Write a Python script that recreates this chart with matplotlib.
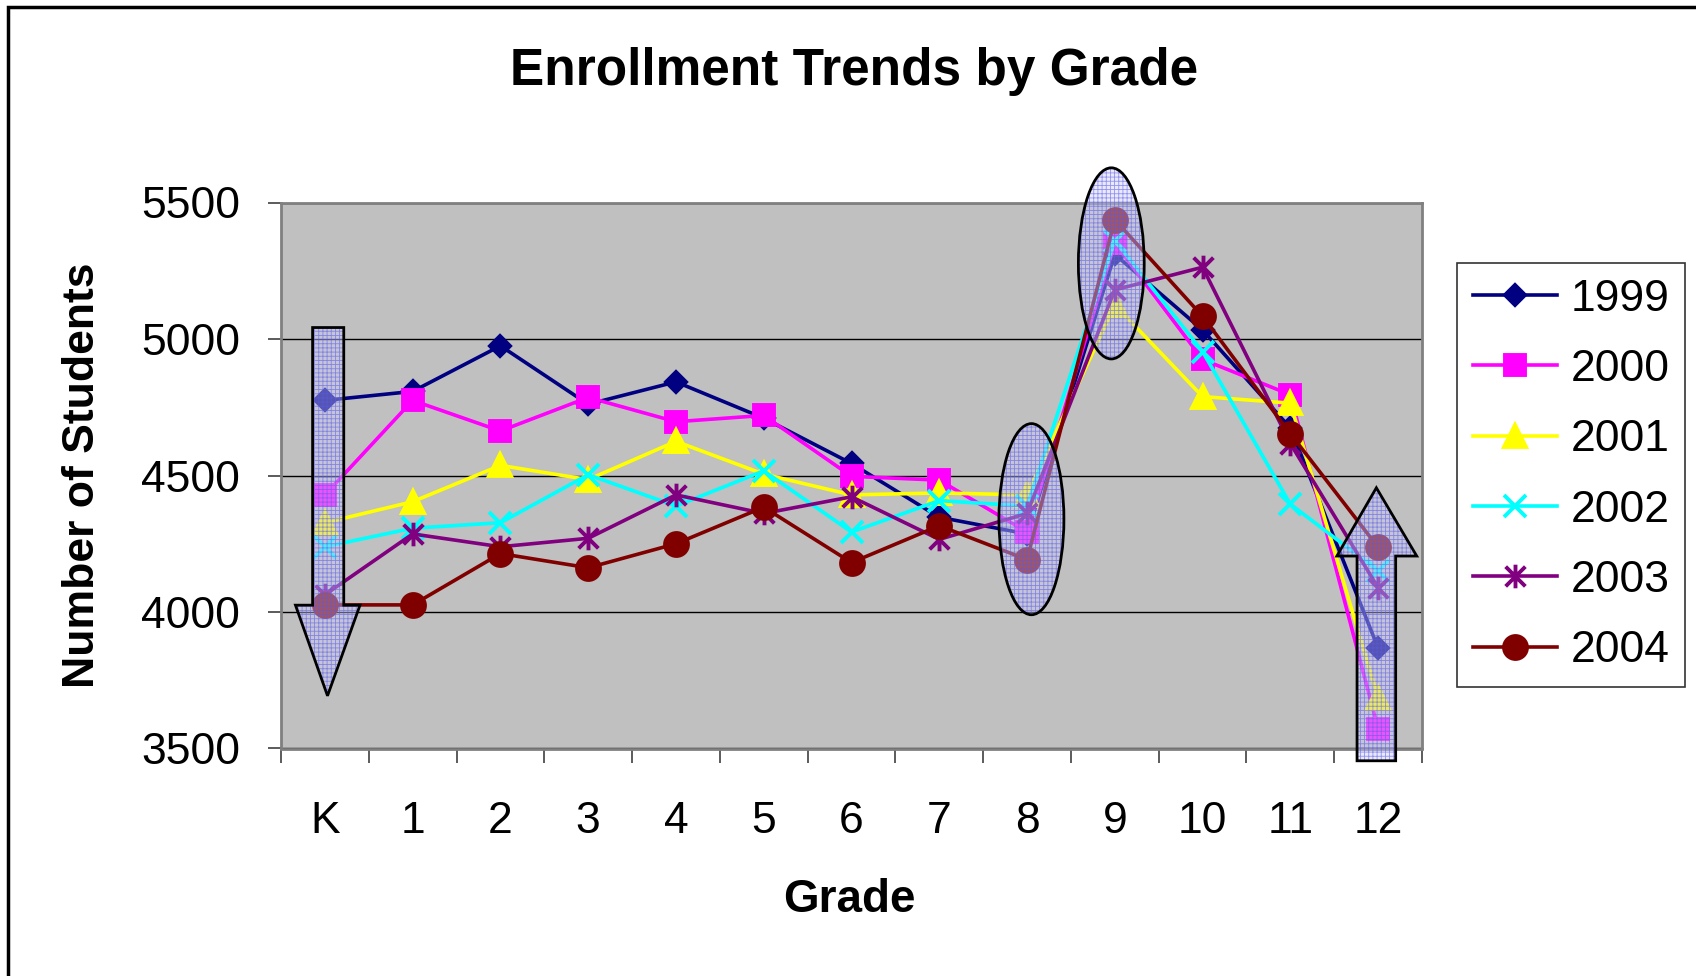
import matplotlib
matplotlib.use("Agg")
import matplotlib.pyplot as plt
from matplotlib.path import Path
from matplotlib.patches import Polygon, Ellipse, Rectangle

plt.rcParams['font.family'] = ['Liberation Sans', 'DejaVu Sans']
plt.rcParams['hatch.linewidth'] = 0.6

grades = ['K', '1', '2', '3', '4', '5', '6', '7', '8', '9', '10', '11', '12']
years = ['1999', '2000', '2001', '2002', '2003', '2004']

y1999 = [4775, 4808, 4975, 4761, 4843, 4710, 4544, 4347, 4286, 5310, 5033, 4674, 3868]
y2000 = [4429, 4775, 4663, 4786, 4697, 4720, 4497, 4483, 4293, 5351, 4925, 4796, 3572]
y2001 = [4327, 4404, 4537, 4485, 4625, 4505, 4429, 4436, 4429, 5125, 4789, 4765, 3684]
y2002 = [4239, 4307, 4327, 4503, 4388, 4517, 4293, 4408, 4388, 5360, 4954, 4395, 4151]
y2003 = [4063, 4286, 4239, 4270, 4429, 4361, 4422, 4266, 4361, 5180, 5263, 4617, 4089]
y2004 = [4026, 4026, 4214, 4162, 4250, 4384, 4181, 4316, 4192, 5437, 5083, 4653, 4237]

colors = ['#000080', '#FF00FF', '#FFFF00', '#00FFFF', '#800080', '#800000']

# Excel-style asterisk: an "x" with a vertical bar
star = Path([(-1, -1), (1, 1), (-1, 1), (1, -1), (0, -1.2), (0, 1.2)],
            [Path.MOVETO, Path.LINETO, Path.MOVETO, Path.LINETO, Path.MOVETO, Path.LINETO])
markers = ['D', 's', '^', 'x', star, 'o']
msizes = [10.5, 15, 16, 16, 17, 16.5]

fig = plt.figure(figsize=(16.96, 9.76), dpi=100)
ax = fig.add_axes([281 / 1696, 1 - 748.5 / 976, 1141 / 1696, 546 / 976])
ax.set_facecolor('#C0C0C0')

x = list(range(len(grades)))
series = [y1999, y2000, y2001, y2002, y2003, y2004]
for vals, c, m, ms, lab in zip(series, colors, markers, msizes, years):
    ax.plot(x, vals, color=c, lw=2.6, marker=m, ms=ms, mfc=c, mec=c, mew=2.8,
            label=lab, zorder=2)

ax.set_xlim(-0.5, 12.5)
ax.set_ylim(3500, 5500)
ax.set_yticks([3500, 4000, 4500, 5000, 5500])
ax.yaxis.grid(True, color='black', lw=1)
ax.set_axisbelow(True)
ax.set_xticks(x)
ax.set_xticklabels(grades)
ax.set_xticks([i - 0.5 for i in range(14)], minor=True)
ax.tick_params(axis='x', which='major', length=0, pad=38, labelsize=32)
ax.tick_params(axis='x', which='minor', length=10, width=1.2, color='#404040')
ax.tick_params(axis='y', length=9.5, width=1.2, color='#404040', pad=20, labelsize=32)
for s in ax.spines.values():
    s.set_color('#808080')
    s.set_linewidth(2)


def shaded(patch_fn):
    fill = patch_fn()
    fill.set_facecolor((0.80, 0.80, 0.97, 0.42))
    fill.set_edgecolor((0.35, 0.35, 0.92, 0.6))
    fill.set_linewidth(0)
    fill.set_hatch('++++')
    fill.set_clip_on(False)
    fill.set_zorder(3)
    ax.add_patch(fill)
    edge = patch_fn()
    edge.set_fill(False)
    edge.set_edgecolor('black')
    edge.set_linewidth(2)
    edge.set_clip_on(False)
    edge.set_zorder(4)
    ax.add_patch(edge)


down_arrow = [(-0.14, 5042), (0.215, 5042), (0.215, 4025), (0.40, 4025),
              (0.03, 3693), (-0.335, 4025), (-0.14, 4025)]
up_arrow = [(11.76, 3455), (12.20, 3455), (12.20, 4205), (12.44, 4205),
            (11.98, 4455), (11.53, 4205), (11.76, 4205)]
shaded(lambda: Polygon(down_arrow, closed=True))
shaded(lambda: Polygon(up_arrow, closed=True))
shaded(lambda: Ellipse((8.05, 4340), 0.74, 700))
shaded(lambda: Ellipse((8.96, 5277), 0.75, 700))

fig.text(854 / 1696, 1 - 71 / 976, 'Enrollment Trends by Grade', fontsize=37,
         fontweight='bold', ha='center', va='center')
fig.text(83 / 1696, 1 - 475 / 976, 'Number of Students', fontsize=32,
         fontweight='bold', rotation=90, ha='center', va='center')
fig.text(849 / 1696, 1 - 900 / 976, 'Grade', fontsize=33,
         fontweight='bold', ha='center', va='center')

leg = fig.legend(loc='upper left', bbox_to_anchor=(1457 / 1696, 1 - 263 / 976),
                 borderaxespad=0, fontsize=32, handlelength=1.9, handletextpad=0.3,
                 labelspacing=0.66, borderpad=0.35, fancybox=False)
leg.get_frame().set_edgecolor('black')
leg.get_frame().set_linewidth(1.2)

# outer chart border (right and bottom edges fall outside the picture)
fig.add_artist(Rectangle((8 / 1696, -0.05), 1.2, 1 - 6.5 / 976 + 0.05,
                         transform=fig.transFigure, fill=False,
                         edgecolor='black', lw=2.5))

fig.savefig('out.png', dpi=100)
